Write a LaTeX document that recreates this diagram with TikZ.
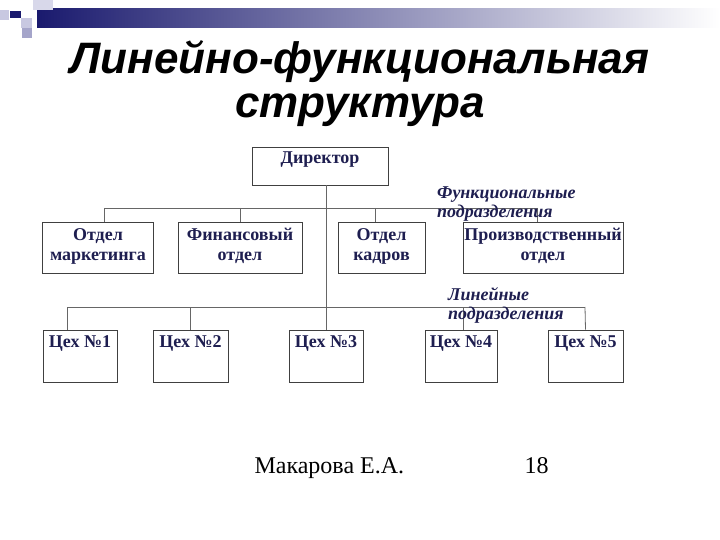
\documentclass[tikz,border=0pt]{standalone}
\usepackage{fontspec}
\setmainfont{Liberation Serif}
\newfontfamily\titlefont{Liberation Sans}
\usetikzlibrary{positioning}
\definecolor{navy}{RGB}{26,26,110}
\definecolor{ink}{RGB}{30,30,80}
\definecolor{lav}{RGB}{200,200,225}
\tikzset{box/.style={rectangle,draw=black!75,line width=0.8pt,inner xsep=1pt,inner ysep=4pt,text=ink,font=\fontsize{18}{20}\selectfont\bfseries,align=center},
  top/.style={text height=13pt},
  two/.style={minimum height=51pt,execute at begin node=\strut,execute at end node=\strut},
  lbl/.style={text=ink,font=\fontsize{18}{19}\selectfont\bfseries\itshape,align=left,anchor=west,inner sep=0pt},
  wire/.style={draw=black!60,line width=0.8pt}}

\begin{document}
\begin{tikzpicture}[x=1pt,y=-1pt]
        \useasboundingbox (0,0) rectangle (720,540);
        % header strip
        \shade[left color=navy,right color=white] (37,9) rectangle (720,28);
        \fill[lav] (0,10) rectangle (9,20);
        \fill[lav!70] (33,0) rectangle (53,10);
        \fill[navy] (10,11) rectangle (21,18);
        \fill[lav] (21,18) rectangle (32,28);
        \fill[lav!80!navy] (22,28) rectangle (32,38);

        \node[font=\titlefont\fontsize{44}{44}\selectfont\bfseries\itshape,align=center] (t) at (360,84) {Линейно-функциональная\\структура};

        \node[box,top,text depth=17pt,minimum width=136pt] (d) at (320,166) {Директор};

        \node[box,two,minimum width=111pt] (a) at (98,247.5) {Отдел\\маркетинга};
        \node[box,two,minimum width=124pt] (b) at (240,247.5) {Финансовый\\отдел};
        \node[box,two,minimum width=87pt] (c) at (381.5,247.5) {Отдел\\кадров};
        \node[box,two,minimum width=160pt] (e) at (543,247.5) {Производственный\\отдел};

        \node[box,top,text depth=31pt,minimum width=74pt] (f) at (80,356) {Цех №1};
        \node[box,top,text depth=31pt,minimum width=75pt] (g) at (190.5,356) {Цех №2};
        \node[box,top,text depth=31pt,minimum width=74pt] (h) at (326,356) {Цех №3};
        \node[box,top,text depth=31pt,minimum width=72pt] (i) at (461,356) {Цех №4};
        \node[box,top,text depth=31pt,minimum width=75pt] (j) at (585.5,356) {Цех №5};

        % bus lines and their stubs
        \coordinate (fl) at (104,208);
        \coordinate (fr) at (537,208);
        \coordinate (fc) at (375,208);
        \coordinate (ll) at (67,307);
        \coordinate (lr) at (585,307);
        \coordinate (lc) at (463,307);

        \draw [wire] (fl) -- (fr);
        \draw [wire] (ll) -- (lr);
        \draw [wire] (d.south -| h.north) -- (h.north);
        \draw [wire] (fl) -- (fl |- a.north);
        \draw [wire] (fl -| b.north) -- (b.north);
        \draw [wire] (fc) -- (fc |- c.north);
        \draw [wire] (fr) -- (fr |- e.north);
        \draw [wire] (ll) -- (ll |- f.north);
        \draw [wire] (ll -| g.north) -- (g.north);
        \draw [wire] (lc) -- (lc |- i.north);
        \draw [wire] (lr) -- (j.north);

        \node[lbl] (fn) at (437,204) {Функциональные\\подразделения};
        \node[lbl] (ln) at (448,305) {Линейные\\подразделения};

        \node[font=\fontsize{24}{28}\selectfont,anchor=base west] (m) at (251,473) {Макарова Е.А.};
        \node[font=\fontsize{24}{28}\selectfont,anchor=base west] (n) at (521,473) {18};
    \end{tikzpicture}
\end{document}
